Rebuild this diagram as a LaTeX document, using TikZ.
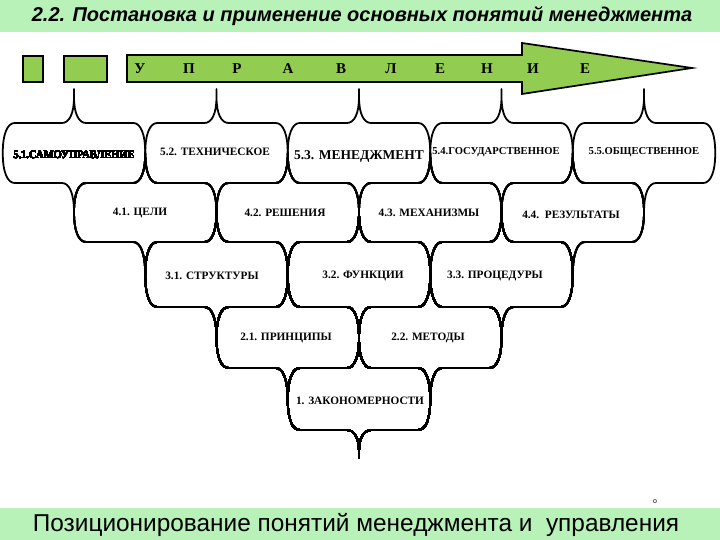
\documentclass[tikz,border=0pt]{standalone}
\usepackage{fontspec}
\setmainfont{Liberation Serif}
\newfontfamily\sansf{Liberation Sans}
\definecolor{barg}{RGB}{185,242,185}
\definecolor{arrg}{RGB}{146,204,80}
\def\hw{71.25}
\def\rr{12}
\def\aa{0.4}
\def\bb{0.65}
% #1 cx, #2 top, #3 mid, #4 bot, #5 up-tip curve end, #6 up-tip line end, #7 down-tip curve end, #8 down-tip line end
\newcommand\cellshape[8]{%
\draw[cellline] ({#1-\hw},#3)
 .. controls ({#1-\hw},{#3+\bb*(#2-#3)}) and ({#1-\hw+\aa*\rr},#2) .. ({#1-\hw+\rr},#2)
 -- ({#1-\rr},#2)
 .. controls ({#1-\aa*\rr},#2) and (#1,{#5+\bb*(#2-#5)}) .. (#1,#5)
 -- (#1,#6) -- (#1,#5)
 .. controls (#1,{#5+\bb*(#2-#5)}) and ({#1+\aa*\rr},#2) .. ({#1+\rr},#2)
 -- ({#1+\hw-\rr},#2)
 .. controls ({#1+\hw-\aa*\rr},#2) and ({#1+\hw},{#3+\bb*(#2-#3)}) .. ({#1+\hw},#3)
 .. controls ({#1+\hw},{#3+\bb*(#4-#3)}) and ({#1+\hw-\aa*\rr},#4) .. ({#1+\hw-\rr},#4)
 -- ({#1+\rr},#4)
 .. controls ({#1+\aa*\rr},#4) and (#1,{#7+\bb*(#4-#7)}) .. (#1,#7)
 -- (#1,#8) -- (#1,#7)
 .. controls (#1,{#7+\bb*(#4-#7)}) and ({#1-\aa*\rr},#4) .. ({#1-\rr},#4)
 -- ({#1-\hw+\rr},#4)
 .. controls ({#1-\hw+\aa*\rr},#4) and ({#1-\hw},{#3+\bb*(#4-#3)}) .. ({#1-\hw},#3) -- cycle;}
\tikzset{
 cellline/.style={line width=1.8pt, line join=round, black},
 lbl/.style={font=\bfseries\fontsize{11.3}{11.3}\selectfont, inner sep=0pt},
 lblsm/.style={font=\bfseries\fontsize{10.6}{10.6}\selectfont, inner sep=0pt},
 lblbig/.style={font=\bfseries\fontsize{13.5}{13.5}\selectfont, inner sep=0pt},
 letter/.style={font=\bfseries\fontsize{15}{15}\selectfont, inner sep=0pt},
 greenbox/.style={fill=arrg, draw=black, line width=1.7pt},
}
\begin{document}
\begin{tikzpicture}[x=1pt,y=-1pt]
\useasboundingbox (0,0) rectangle (720,540);
\fill[white] (0,0) rectangle (720,540);
% title bar
\fill[barg] (0,0) rectangle (720,32);
\node[font=\sansf\bfseries\itshape\fontsize{20}{20}\selectfont, inner sep=0pt] (title) at (362,16) {2.2. Постановка и применение основных понятий менеджмента};
% bottom bar
\fill[barg] (0,508) rectangle (720,540);
\node[font=\sansf\fontsize{24.4}{24.4}\selectfont, inner sep=0pt] (caption) at (356,525) {Позиционирование понятий менеджмента и\ \ управления};
\node[font=\sansf\fontsize{7}{7}\selectfont, inner sep=0pt] (dot) at (655,502) {o};
% top squares and arrow
\draw[greenbox] (23,56) rectangle (43,82);
\draw[greenbox] (64,56) rectangle (107,82);
\draw[greenbox, line join=miter] (127,55) -- (522,55) -- (522,43) -- (692,68) -- (522,94) -- (522,82) -- (127,82) -- cycle;
\foreach \ch/\xx [count=\i] in {У/140,П/189,Р/237,А/288,В/341,Л/391,Е/440,Н/487,И/533,Е/585}
  \node[letter] (let\i) at (\xx,69) {\ch};
% row 5
\foreach \cx in {74,216.5,359,501.5,644}
  \cellshape{\cx}{123}{153}{183}{97}{89}{212}{212}
% row 4
\foreach \cx in {145.25,287.75,430.25,572.75}
  \cellshape{\cx}{183}{212}{242}{153}{153}{275}{275}
% row 3
\foreach \cx in {216.5,359,501.5}
  \cellshape{\cx}{242}{275}{307}{212}{212}{338}{338}
% row 2
\foreach \cx in {287.75,430.25}
  \cellshape{\cx}{307}{338}{368}{275}{275}{400}{400}
% row 1
\cellshape{359}{368}{400}{430}{338}{338}{452}{458}
% labels
\node[lbl] (c51) at (74,155) {\scalebox{0.93}[1]{5.1.САМОУПРАВЛЕНИЕ}};
\node[lbl] (c52) at (215,152) {5.2. ТЕХНИЧЕСКОЕ};
\node[lblbig] (c53) at (359,156) {5.3. МЕНЕДЖМЕНТ};
\node[lblsm] (c54) at (496,152) {5.4.ГОСУДАРСТВЕННОЕ};
\node[lblsm] (c55) at (644,152) {5.5.ОБЩЕСТВЕННОЕ};
\node[lbl] (c41) at (140,213) {4.1. ЦЕЛИ};
\node[lbl] (c42) at (285,213) {4.2. РЕШЕНИЯ};
\node[lbl] (c43) at (429,213) {4.3. МЕХАНИЗМЫ};
\node[lbl] (c44) at (571,215) {4.4.\ \ РЕЗУЛЬТАТЫ};
\node[lbl] (c31) at (212,276) {3.1. СТРУКТУРЫ};
\node[lbl] (c32) at (363,276) {3.2. ФУНКЦИИ};
\node[lbl] (c33) at (495,276) {3.3. ПРОЦЕДУРЫ};
\node[lbl] (c21) at (286,338) {2.1. ПРИНЦИПЫ};
\node[lbl] (c22) at (428,338) {2.2. МЕТОДЫ};
\node[lbl] (c1) at (360,401) {1. ЗАКОНОМЕРНОСТИ};
\end{tikzpicture}
\end{document}
